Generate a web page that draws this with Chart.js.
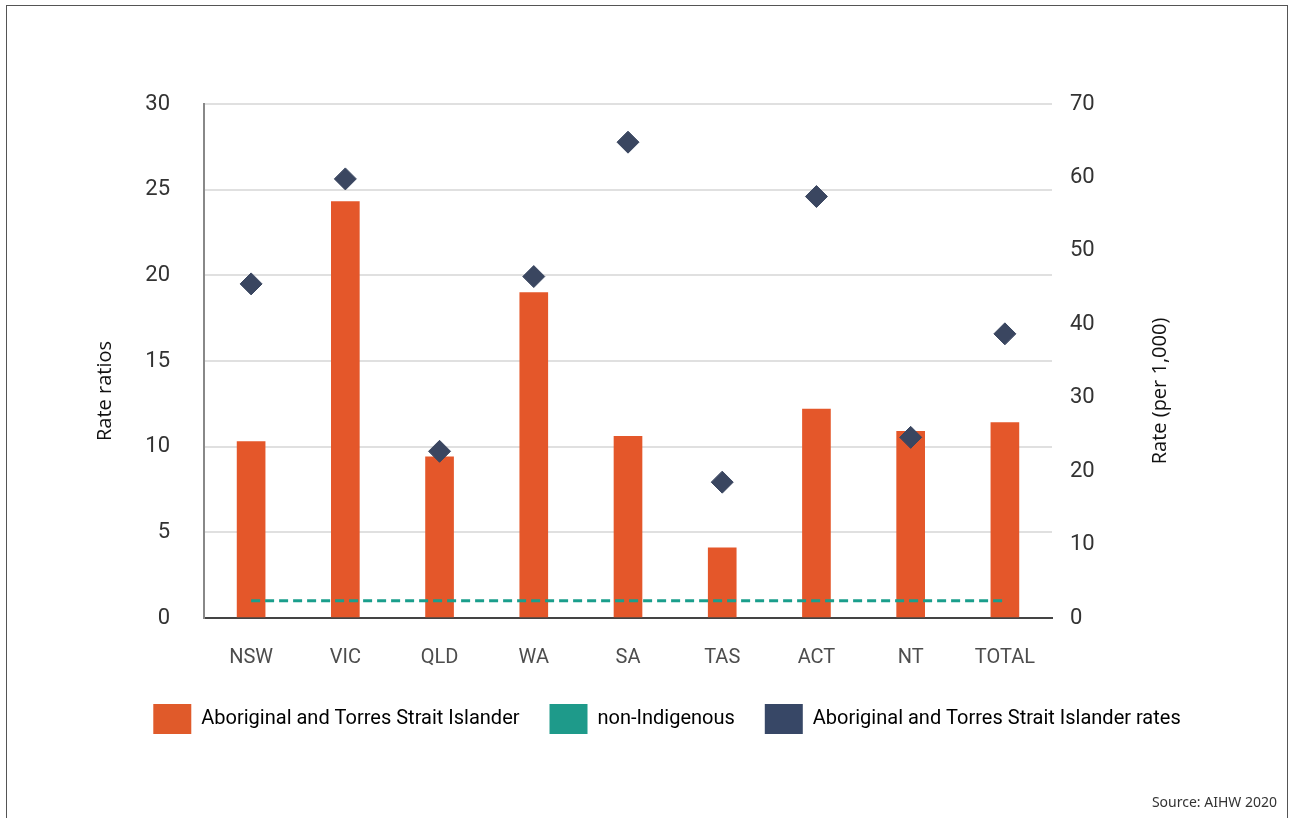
<!DOCTYPE html>
<html>
<head>
<meta charset="utf-8">
<script src="https://cdn.jsdelivr.net/npm/chart.js@4/dist/chart.umd.min.js"></script>
<style>
  html, body { margin: 0; padding: 0; background: #fff; }
  #wrap { position: relative; width: 1292px; height: 818px; overflow: hidden; }
  #frame { position: absolute; left: 6px; top: 5px; width: 1282px; height: 840px; border: 1.5px solid #555; box-sizing: border-box; }
  #source { position: absolute; right: 15px; top: 792px; font: 14px "Noto Sans"; color: #333; }
  canvas { position: absolute; left: 0; top: 0; }
</style>
</head>
<body>
<div id="wrap">
  <div id="frame"></div>
  <canvas id="chart" width="1292" height="818"></canvas>
  <div id="source">Source: AIHW 2020</div>
</div>
<script>
// data
var states = ["NSW", "VIC", "QLD", "WA", "SA", "TAS", "ACT", "NT", "TOTAL"];
var ratioIndigenous = [10.3, 24.3, 9.4, 19.0, 10.6, 4.1, 12.2, 10.9, 11.4];
var ratioNonIndigenous = [1, 1, 1, 1, 1, 1, 1, 1, 1];
var ratesIndigenous = [45.5, 59.8, 22.7, 46.5, 64.8, 18.5, 57.4, 24.6, 38.7];
var seriesNames = ["Aboriginal and Torres Strait Islander", "non-Indigenous", "Aboriginal and Torres Strait Islander rates"];
var legendColors = ["#e05a2a", "#1e9a8a", "#374766"];

// both axis titles read bottom-to-top, so draw them by hand
var sideTitles = {
  id: "sideTitles",
  afterDraw: function(chart) {
    var ctx = chart.ctx;
    var midY = 391;
    ctx.save();
    ctx.font = '20px "Open Sans"';
    ctx.fillStyle = "#111";
    ctx.textAlign = "center";
    ctx.textBaseline = "middle";
    ctx.translate(chart.scales.y.left + 45, midY);
    ctx.rotate(-Math.PI / 2);
    ctx.fillText("Rate ratios", 0, 0);
    ctx.restore();
    ctx.save();
    ctx.font = '20px "Open Sans"';
    ctx.fillStyle = "#111";
    ctx.textAlign = "center";
    ctx.textBaseline = "middle";
    ctx.translate(chart.scales.y2.left + 108, midY);
    ctx.rotate(-Math.PI / 2);
    ctx.fillText("Rate (per 1,000)", 0, 0);
    ctx.restore();
  }
};

new Chart(document.getElementById("chart"), {
  type: "bar",
  data: {
    labels: states,
    datasets: [{
      label: seriesNames[0],
      data: ratioIndigenous,
      backgroundColor: "#e4572a",
      barThickness: 28,
      yAxisID: "y",
      order: 3
    }, {
      type: "line",
      label: seriesNames[1],
      data: ratioNonIndigenous,
      borderColor: "#1a9e8c",
      borderWidth: 3,
      borderDash: [9, 5],
      pointRadius: 0,
      fill: false,
      yAxisID: "y",
      order: 2
    }, {
      type: "line",
      label: seriesNames[2],
      data: ratesIndigenous,
      showLine: false,
      pointStyle: "rectRot",
      pointRadius: 11,
      pointBackgroundColor: "#3a4660",
      pointBorderColor: "#3a4660",
      yAxisID: "y2",
      order: 1
    }]
  },
  options: {
    responsive: false,
    animation: false,
    layout: { padding: { top: 104, left: 60, right: 18, bottom: 74 } },
    plugins: {
      tooltip: { enabled: false },
      legend: {
        position: "bottom",
        labels: {
          boxWidth: 38,
          boxHeight: 30,
          padding: 30,
          color: "#333",
          font: { family: "Roboto", size: 20 },
          generateLabels: function(chart) {
            return chart.data.datasets.map(function(ds, i) {
              return { text: ds.label, fillStyle: legendColors[i], strokeStyle: legendColors[i], lineWidth: 0, datasetIndex: i, hidden: false };
            });
          }
        }
      }
    },
    scales: {
      x: {
        grid: { display: false, drawTicks: false },
        border: { color: "#444", width: 2 },
        ticks: { color: "#4d4d4d", padding: 28, font: { family: "Roboto", size: 20 } },
        afterFit: function(scale) { scale.height = 56; }
      },
      y: {
        position: "left",
        min: 0,
        max: 30,
        ticks: { stepSize: 5, color: "#333", padding: 34, font: { family: "Roboto", size: 22 } },
        grid: { color: "#e0e0e0", lineWidth: 2, drawTicks: false },
        border: { color: "#888", width: 2 },
        afterFit: function(scale) { scale.width = 144; }
      },
      y2: {
        position: "right",
        min: 0,
        max: 70,
        ticks: { stepSize: 10, color: "#333", padding: 18, font: { family: "Roboto", size: 22 } },
        grid: { display: false, drawTicks: false },
        border: { display: false },
        afterFit: function(scale) { scale.width = 222; }
      }
    }
  },
  plugins: [sideTitles]
});
</script>
</body>
</html>
